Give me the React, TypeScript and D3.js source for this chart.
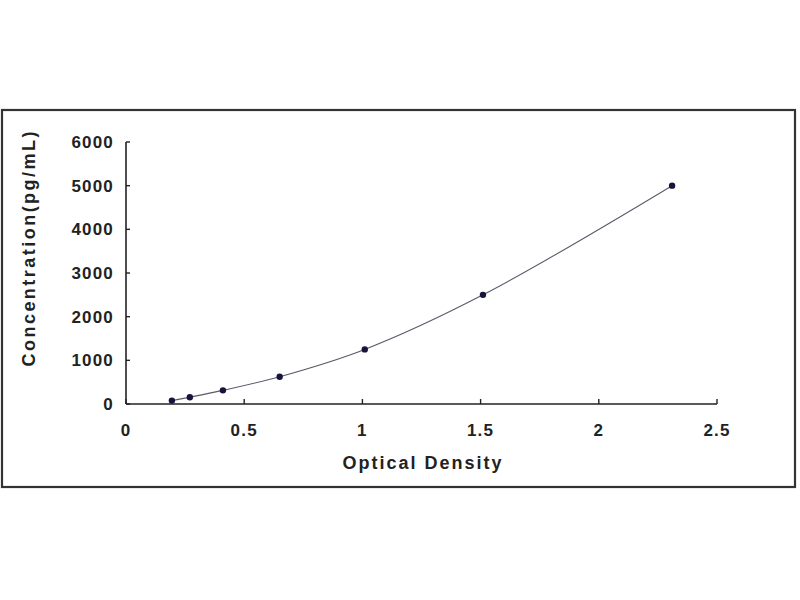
import React from "react";
import * as d3 from "d3";

const opticalDensity = [0.194, 0.27, 0.41, 0.65, 1.01, 1.51, 2.31];
const concentration = [78, 156, 312.5, 625, 1250, 2500, 5000];
const xTicks = [0, 0.5, 1, 1.5, 2, 2.5];
const yTicks = [0, 1000, 2000, 3000, 4000, 5000, 6000];
const xTitle = "Optical Density";
const yTitle = "Concentration(pg/mL)";

export default function App() {
  const x = d3.scaleLinear().domain([0, 2.5]).range([126, 717]);
  const y = d3.scaleLinear().domain([0, 6000]).range([404, 142]);
  const pts = opticalDensity.map((od, i) => [od, concentration[i]] as [number, number]);
  const line = d3
    .line<[number, number]>()
    .x((d) => x(d[0]))
    .y((d) => y(d[1]))
    .curve(d3.curveCatmullRom.alpha(0.5));
  const font = "Arial, 'Liberation Sans', sans-serif";
  return (
    <svg
      width={800}
      height={600}
      style={{ position: "absolute", left: 0, top: 0, background: "#fff" }}
    >
      <rect x={0} y={0} width={800} height={600} fill="#fff" />
      <rect x={2} y={110} width={793} height={377} fill="#fff" stroke="#333" strokeWidth={2.2} />
      <line x1={x(0)} x2={x(0)} y1={y(0)} y2={y(6000)} stroke="#222" strokeWidth={1.6} />
      <line x1={x(0)} x2={x(2.5)} y1={y(0)} y2={y(0)} stroke="#222" strokeWidth={1.6} />
      {yTicks.map((t) => (
        <g key={"y" + t}>
          <line x1={x(0)} x2={x(0) + 4} y1={y(t)} y2={y(t)} stroke="#222" strokeWidth={1.4} />
          <text
            x={114}
            y={y(t)}
            dy="0.36em"
            textAnchor="end"
            fontFamily={font}
            fontWeight="bold"
            fontSize={17}
            letterSpacing={1.2}
            fill="#222"
          >
            {t}
          </text>
        </g>
      ))}
      {xTicks.map((t) => (
        <g key={"x" + t}>
          <line x1={x(t)} x2={x(t)} y1={y(0)} y2={y(0) - 5} stroke="#222" strokeWidth={1.4} />
          <text
            x={x(t)}
            y={430}
            dy="0.36em"
            textAnchor="middle"
            fontFamily={font}
            fontWeight="bold"
            fontSize={17}
            letterSpacing={1.2}
            fill="#222"
          >
            {t}
          </text>
        </g>
      ))}
      <path d={line(pts) || ""} fill="none" stroke="#5a5a6a" strokeWidth={1.1} />
      {pts.map((p, i) => (
        <circle key={i} cx={x(p[0])} cy={y(p[1])} r={3.2} fill="#14143c" />
      ))}
      <text
        x={422}
        y={469}
        textAnchor="middle"
        fontFamily={font}
        fontWeight="bold"
        fontSize={18}
        textLength={159}
        lengthAdjust="spacing"
        fill="#222"
      >
        {xTitle}
      </text>
      <text
        transform="translate(35,249) rotate(-90)"
        textAnchor="middle"
        fontFamily={font}
        fontWeight="bold"
        fontSize={18}
        textLength={235}
        lengthAdjust="spacing"
        fill="#222"
      >
        {yTitle}
      </text>
    </svg>
  );
}
